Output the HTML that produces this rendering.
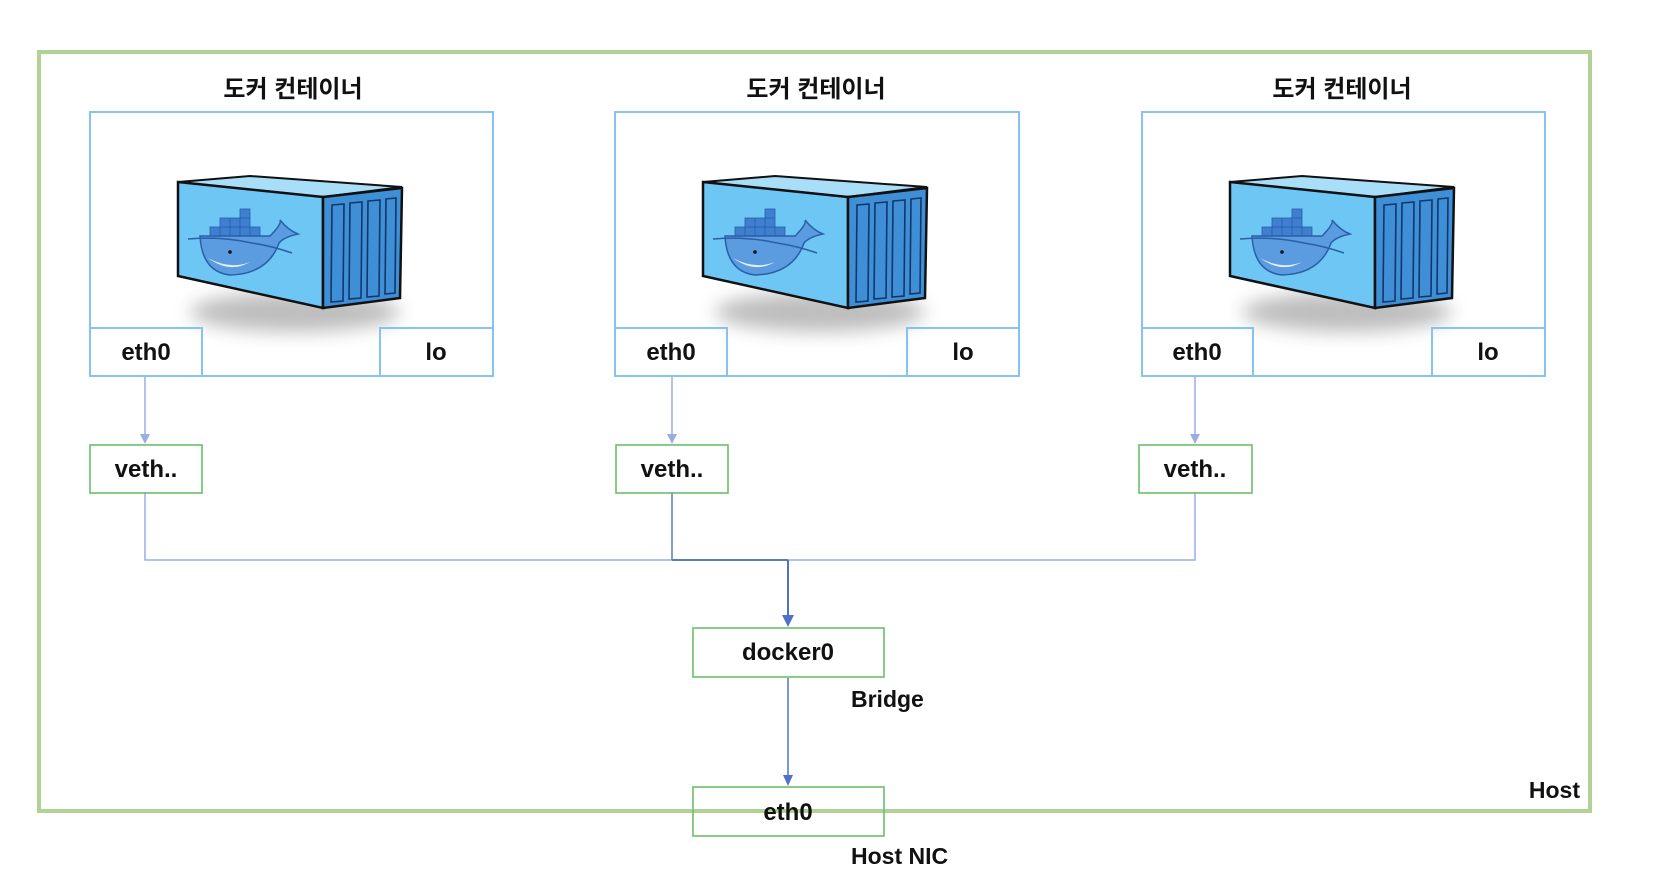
<!DOCTYPE html>
<html><head><meta charset="utf-8"><style>
html,body{margin:0;padding:0;background:#fff;}
svg{display:block;}
text{font-family:"Liberation Sans","Noto Sans CJK KR",sans-serif;font-weight:bold;fill:#111;}
</style></head><body>
<svg width="1660" height="882" viewBox="0 0 1660 882" xmlns="http://www.w3.org/2000/svg">
<defs>
<filter id="bl" x="-50%" y="-50%" width="200%" height="200%"><feGaussianBlur stdDeviation="9"/></filter>
<g id="ct">
  <ellipse cx="205" cy="200" rx="105" ry="20" fill="#888" opacity="0.55" filter="url(#bl)"/>
  <polygon points="88,70 160,64 312,75 233,85" fill="#a9def8" stroke="#111" stroke-width="2"/>
  <polygon points="88,70 233,85 233,196 88,164" fill="#6ec6f5" stroke="#111" stroke-width="2.5"/>
  <polygon points="233,85 312,76 310,186 233,196" fill="#3f8fd6" stroke="#111" stroke-width="2.5"/>
  <g fill="none" stroke="#12366a" stroke-width="1.6">
    <polygon points="242,93 254,92 253,189 241,190"/>
    <polygon points="260,91 272,90 271,186 259,187"/>
    <polygon points="278,89 290,88 289,184 277,185"/>
    <polygon points="296,87 306,86 305,181 295,182"/>
  </g>
  <g fill="#3e7fd0" stroke="#2a5fa6" stroke-width="0.8">
    <rect x="120" y="115" width="10" height="9"/><rect x="130" y="115" width="10" height="9"/><rect x="140" y="115" width="10" height="9"/><rect x="150" y="115" width="10" height="9"/><rect x="160" y="115" width="10" height="9"/>
    <rect x="130" y="106" width="10" height="9"/><rect x="140" y="106" width="10" height="9"/><rect x="150" y="106" width="10" height="9"/>
    <rect x="150" y="97" width="10" height="9"/>
  </g>
  <path d="M110,124 L180,124 Q192,112 190,108 Q198,118 208,122 Q194,125 189,131 Q178,162 140,163 Q112,160 110,124 z" fill="#5b9be0" stroke="#2a5fa6" stroke-width="1.5"/>
  <path d="M118,146 Q140,162 160,150 Q140,158 118,146 z" fill="#e8eef8"/>
  <path d="M98,127 Q130,124 162,131 Q182,134 202,141" fill="none" stroke="#2a5fa6" stroke-width="1.5"/>
  <circle cx="140" cy="140" r="1.8" fill="#111"/>
</g>
</defs>

<rect x="39" y="52" width="1551" height="759" fill="none" stroke="#b1d195" stroke-width="4"/>

<g transform="translate(90,112)"><use href="#ct"/></g>
<g transform="translate(615,112)"><use href="#ct"/></g>
<g transform="translate(1142,112)"><use href="#ct"/></g>

<g fill="none" stroke="#86c3f0" stroke-width="2">
<rect x="90" y="112" width="403" height="264"/><rect x="90" y="328" width="112" height="48"/><rect x="380" y="328" width="113" height="48"/>
<rect x="615" y="112" width="404" height="264"/><rect x="615" y="328" width="112" height="48"/><rect x="907" y="328" width="112" height="48"/>
<rect x="1142" y="112" width="403" height="264"/><rect x="1142" y="328" width="111" height="48"/><rect x="1432" y="328" width="113" height="48"/>
</g>
<g font-size="24" text-anchor="middle">
<text x="293" y="97">도커 컨테이너</text><text x="816" y="97">도커 컨테이너</text><text x="1342" y="97">도커 컨테이너</text>
<text x="146" y="360">eth0</text><text x="436" y="360">lo</text>
<text x="671" y="360">eth0</text><text x="963" y="360">lo</text>
<text x="1197" y="360">eth0</text><text x="1488" y="360">lo</text>
</g>

<g stroke="#9aaee0" stroke-width="1.5" fill="none">
<line x1="145" y1="377" x2="145" y2="436"/>
<line x1="672" y1="377" x2="672" y2="436"/>
<line x1="1195" y1="377" x2="1195" y2="436"/>
<polyline points="145,492 145,560 1195,560 1195,492"/>
</g>
<g fill="#9aaee0">
<polygon points="140,434 150,434 145,444"/>
<polygon points="667,434 677,434 672,444"/>
<polygon points="1190,434 1200,434 1195,444"/>
</g>
<line x1="672" y1="492" x2="672" y2="560" stroke="#5a78c8" stroke-width="1.5"/>
<line x1="672" y1="560" x2="788" y2="560" stroke="#5a78c8" stroke-width="2"/>
<line x1="788" y1="560" x2="788" y2="618" stroke="#4f72c8" stroke-width="2"/>
<polygon points="782,615 794,615 788,627" fill="#4f72c8"/>
<line x1="788" y1="678" x2="788" y2="777" stroke="#4f72c8" stroke-width="1.5"/>
<polygon points="783,775 793,775 788,786" fill="#4f72c8"/>

<g fill="none" stroke="#6cbf6c" stroke-width="1.6">
<rect x="90" y="445" width="112" height="48"/>
<rect x="616" y="445" width="112" height="48"/>
<rect x="1139" y="445" width="113" height="48"/>
<rect x="693" y="628" width="191" height="49"/>
<rect x="693" y="787" width="191" height="49"/>
</g>
<g font-size="24" text-anchor="middle">
<text x="146" y="477">veth..</text><text x="672" y="477">veth..</text><text x="1195" y="477">veth..</text>
<text x="788" y="660">docker0</text><text x="788" y="820">eth0</text>
</g>
<g font-size="23">
<text x="851" y="707">Bridge</text>
<text x="851" y="864">Host NIC</text>
<text x="1580" y="798" text-anchor="end">Host</text>
</g>
</svg>
</body></html>
